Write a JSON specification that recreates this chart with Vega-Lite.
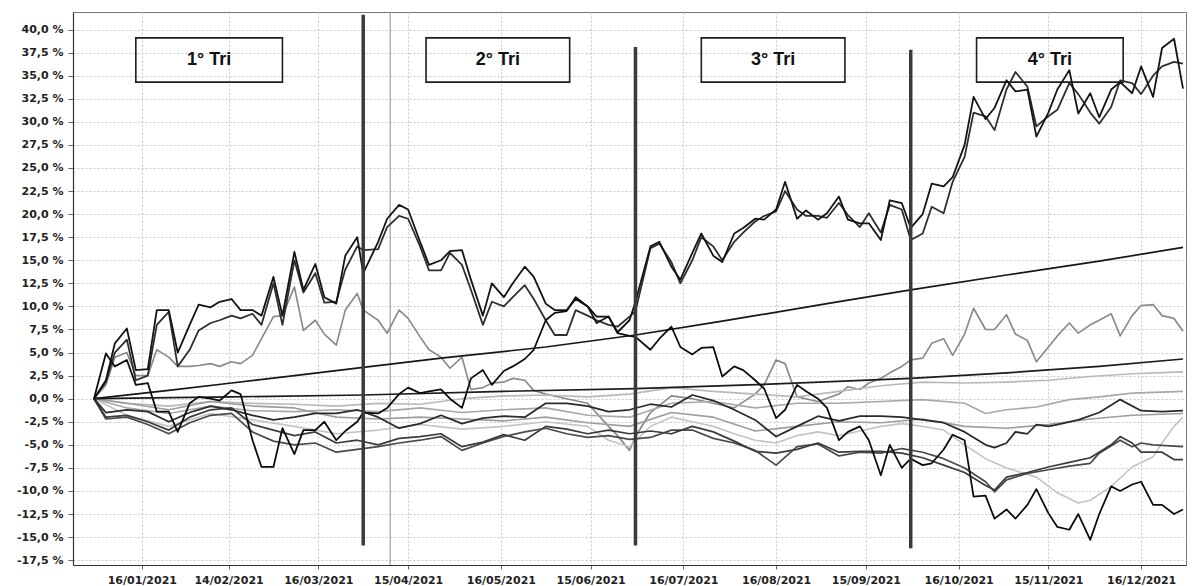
{
  "$schema": "https://vega.github.io/schema/vega-lite/v6.json",
  "autosize": {"type": "none"},
  "padding": {"left": 73, "top": 12, "right": 13, "bottom": 21},
  "width": 1113,
  "height": 553,
  "background": "white",
  "config": {
    "view": {"stroke": "#777", "strokeWidth": 1},
    "axis": {"labelFont": "DejaVu Sans", "labelFontWeight": "bold", "labelFontSize": 11, "labelColor": "#222", "title": null, "grid": true, "gridColor": "#c8c8c8", "gridDash": [2, 2], "gridWidth": 1, "domainColor": "#333", "domainWidth": 1.2, "tickColor": "#666", "tickSize": 5, "labelPadding": 5}
  },
  "encoding": {
    "x": {"field": "d", "type": "temporal", "scale": {"type": "utc", "domain": [{"year": 2020, "month": 12, "date": 24, "utc": true}, {"year": 2021, "month": 12, "date": 31, "utc": true}]},
      "axis": {"values": [
        {"year": 2021, "month": 1, "date": 16, "utc": true},
        {"year": 2021, "month": 2, "date": 14, "utc": true},
        {"year": 2021, "month": 3, "date": 16, "utc": true},
        {"year": 2021, "month": 4, "date": 15, "utc": true},
        {"year": 2021, "month": 5, "date": 16, "utc": true},
        {"year": 2021, "month": 6, "date": 15, "utc": true},
        {"year": 2021, "month": 7, "date": 16, "utc": true},
        {"year": 2021, "month": 8, "date": 16, "utc": true},
        {"year": 2021, "month": 9, "date": 15, "utc": true},
        {"year": 2021, "month": 10, "date": 16, "utc": true},
        {"year": 2021, "month": 11, "date": 15, "utc": true},
        {"year": 2021, "month": 12, "date": 16, "utc": true}], "labelExpr": "utcFormat(datum.value, '%d/%m/%Y')", "labelFlush": false, "labelOverlap": false, "tickSize": 4}},
    "y": {"field": "v", "type": "quantitative", "scale": {"domain": [-18.02, 41.9], "nice": false, "zero": false},
      "axis": {"values": [-17.5, -15, -12.5, -10, -7.5, -5, -2.5, 0, 2.5, 5, 7.5, 10, 12.5, 15, 17.5, 20, 22.5, 25, 27.5, 30, 32.5, 35, 37.5, 40],
        "labelExpr": "replace(replace(format(datum.value, '.1f'), '.', ','), '\u2212', '-') + ' %'"}}
  },
  "layer": [
    {
      "data": {"values": [
        {"d": "2021-01-14", "d2": "2021-03-04", "v": 39.1, "v2": 34.3},
        {"d": "2021-04-21", "d2": "2021-06-08", "v": 39.1, "v2": 34.3},
        {"d": "2021-07-22", "d2": "2021-09-08", "v": 39.1, "v2": 34.3},
        {"d": "2021-10-22", "d2": "2021-12-10", "v": 39.1, "v2": 34.3}
      ]},
      "mark": {"type": "rect", "fill": "white", "fillOpacity": 0, "stroke": "#1e1e1e", "strokeWidth": 1.6},
      "encoding": {"x2": {"field": "d2"}, "y2": {"field": "v2"}}
    },
    {
      "data": {"values": [{"d": "2021-04-09", "v": 41.9, "v2": -18.02}]},
      "mark": {"type": "rule", "color": "#8a8a8a", "strokeWidth": 1},
      "encoding": {"y2": {"field": "v2"}}
    },
    {
      "data": {"name": "series"},
      "transform": [
        {"fold": ["G1", "G2", "G3", "G4", "G5"], "as": ["s", "v"]},
        {"filter": "isValid(datum.v)"}
      ],
      "mark": {"type": "line", "strokeJoin": "round"},
      "encoding": {
        "detail": {"field": "s"},
        "color": {"field": "s", "type": "nominal", "legend": null, "scale": {"domain": ["A1", "A2", "B", "D1", "D2", "D3", "L1", "L2", "G1", "G2", "G3", "G4", "G5"], "range": ["#141414", "#2e2e2e", "#0c0c0c", "#2a2a2a", "#3c3c3c", "#4a4a4a", "#161616", "#1c1c1c", "#8a8a8a", "#b9b9b9", "#a8a8a8", "#c4c4c4", "#9d9d9d"]}},
        "strokeWidth": {"field": "s", "type": "nominal", "legend": null, "scale": {"domain": ["A1", "A2", "B", "D1", "D2", "D3", "L1", "L2", "G1", "G2", "G3", "G4", "G5"], "range": [1.8, 1.6, 2.0, 1.7, 1.5, 1.5, 2.6, 1.9, 1.7, 1.5, 1.5, 2.4, 1.4]}}
      }
    },
    {
      "data": {"name": "series"},
      "transform": [
        {"fold": ["D3", "D2", "D1", "L2", "L1", "A2", "A1", "B"], "as": ["s", "v"]},
        {"filter": "isValid(datum.v)"}
      ],
      "mark": {"type": "line", "strokeJoin": "round"},
      "encoding": {
        "detail": {"field": "s"},
        "color": {"field": "s", "type": "nominal", "legend": null, "scale": {"domain": ["A1", "A2", "B", "D1", "D2", "D3", "L1", "L2", "G1", "G2", "G3", "G4", "G5"], "range": ["#141414", "#2e2e2e", "#0c0c0c", "#2a2a2a", "#3c3c3c", "#4a4a4a", "#161616", "#1c1c1c", "#8a8a8a", "#b9b9b9", "#a8a8a8", "#c4c4c4", "#9d9d9d"]}},
        "strokeWidth": {"field": "s", "type": "nominal", "legend": null, "scale": {"domain": ["A1", "A2", "B", "D1", "D2", "D3", "L1", "L2", "G1", "G2", "G3", "G4", "G5"], "range": [1.8, 1.6, 2.0, 1.7, 1.5, 1.5, 2.6, 1.9, 1.7, 1.5, 1.5, 2.4, 1.4]}}
      }
    },
    {
      "data": {"values": [
        {"d": "2021-03-31", "v": 41.6, "v2": -15.9},
        {"d": "2021-06-30", "v": 38.1, "v2": -15.9},
        {"d": "2021-09-30", "v": 37.8, "v2": -16.2}
      ]},
      "mark": {"type": "rule", "color": "#3a3a3a", "strokeWidth": 3.5},
      "encoding": {"y2": {"field": "v2"}}
    },
    {
      "data": {"values": [
        {"d": "2021-02-07T12:00:00Z", "v": 36.7, "t": "1° Tri"},
        {"d": "2021-05-15", "v": 36.7, "t": "2° Tri"},
        {"d": "2021-08-15", "v": 36.7, "t": "3° Tri"},
        {"d": "2021-11-15T12:00:00Z", "v": 36.7, "t": "4° Tri"}
      ]},
      "mark": {"type": "text", "font": "Liberation Sans", "fontWeight": "bold", "fontSize": 18, "color": "#111", "align": "center", "baseline": "middle"},
      "encoding": {"text": {"field": "t"}}
    }
  ],
  "datasets": {
    "series": [
      {"d": "2020-12-31", "A1": 0, "A2": 0, "B": 0, "L1": 0, "L2": 0, "D1": 0, "D2": 0, "D3": 0, "G1": 0, "G2": 0, "G3": 0, "G4": 0, "G5": 0},
      {"d": "2021-01-04", "A1": 2.0, "A2": 1.8, "B": 4.9, "G1": 1.5, "D1": -1.5, "D2": -2.0, "D3": -2.2},
      {"d": "2021-01-07", "A1": 6.0, "A2": 5.0, "B": 3.5, "G1": 4.5},
      {"d": "2021-01-11", "A1": 7.6, "A2": 6.4, "B": 4.2, "G1": 5.0, "D1": -1.2, "D2": -1.8, "D3": -2.0, "G2": -0.5, "G3": -1.0, "G4": -1.8, "G5": -0.5},
      {"d": "2021-01-14", "A1": 3.1, "A2": 2.0, "B": 1.5, "G1": 2.5},
      {"d": "2021-01-18", "A1": 3.2, "A2": 2.5, "B": 1.7, "G1": 2.5, "D1": -1.4, "D2": -2.5, "D3": -2.8},
      {"d": "2021-01-21", "A1": 9.6, "A2": 8.0, "B": -1.4, "G1": 5.3},
      {"d": "2021-01-25", "A1": 9.6, "A2": 9.4, "B": -1.4, "G1": 4.5, "D1": -2.5, "D2": -3.4, "D3": -3.8, "G2": -0.8, "G3": -1.6, "G4": -3.0, "G5": -1.2, "L1": 0.9},
      {"d": "2021-01-28", "A1": 5.0, "A2": 3.5, "B": -3.6, "G1": 3.5},
      {"d": "2021-02-01", "A1": 8.0, "A2": 5.3, "B": -0.5, "G1": 3.5, "D1": -1.5, "D2": -2.0, "D3": -2.6},
      {"d": "2021-02-04", "A1": 10.2, "A2": 7.4, "B": 0.2, "G1": 3.6},
      {"d": "2021-02-08", "A1": 9.9, "A2": 8.2, "B": 0.0, "G1": 3.8, "D1": -0.8, "D2": -1.2, "D3": -1.8, "G2": -0.3, "G3": -0.8, "G4": -1.6, "G5": -0.3},
      {"d": "2021-02-11", "A1": 10.5, "A2": 8.5, "B": -0.2, "G1": 3.5},
      {"d": "2021-02-15", "A1": 10.8, "A2": 9.0, "B": 0.9, "G1": 4.0, "D1": -1.2, "D2": -1.0, "D3": -1.6, "L1": 1.7, "L2": 0.2},
      {"d": "2021-02-18", "A1": 9.6, "A2": 8.7, "B": 0.5, "G1": 3.8},
      {"d": "2021-02-22", "A1": 9.6, "A2": 9.2, "B": -4.5, "G1": 4.7, "D1": -1.8, "D2": -2.8, "D3": -3.6, "G2": -0.5, "G3": -1.3, "G4": -2.3, "G5": -0.8},
      {"d": "2021-02-25", "A1": 9.0, "A2": 8.0, "B": -7.4, "G1": 6.5},
      {"d": "2021-03-01", "A1": 13.2, "A2": 12.5, "B": -7.4, "G1": 8.9, "D1": -2.3, "D2": -3.4, "D3": -4.6},
      {"d": "2021-03-04", "A1": 9.0, "A2": 8.0, "B": -3.2, "G1": 9.0},
      {"d": "2021-03-08", "A1": 15.9, "A2": 15.0, "B": -6.0, "G1": 12.1, "D1": -2.0, "D2": -4.0, "D3": -5.0, "G2": -0.6, "G3": -1.4, "G4": -3.0, "G5": -1.0, "L1": 2.5},
      {"d": "2021-03-11", "A1": 11.8, "A2": 11.5, "B": -3.4, "G1": 7.4},
      {"d": "2021-03-15", "A1": 14.6, "A2": 13.6, "B": -3.4, "G1": 8.5, "D1": -1.6, "D2": -3.6, "D3": -4.8},
      {"d": "2021-03-18", "A1": 11.0, "A2": 10.4, "B": -2.5, "G1": 7.0},
      {"d": "2021-03-22", "A1": 10.3, "A2": 10.5, "B": -4.5, "G1": 5.8, "D1": -1.6, "D2": -4.8, "D3": -5.8, "G2": -0.8, "G3": -1.2, "G4": -3.8, "G5": -2.0},
      {"d": "2021-03-25", "A1": 15.5, "A2": 14.0, "B": -3.5, "G1": 9.6},
      {"d": "2021-03-29", "A1": 17.5, "A2": 16.5, "B": -2.5, "G1": 11.4, "D1": -1.2, "D2": -4.5, "D3": -5.5},
      {"d": "2021-03-31", "A1": 13.6, "A2": 16.1, "B": -1.5, "G1": 9.6, "L1": 3.4, "L2": 0.4},
      {"d": "2021-04-05", "A1": 17.0, "A2": 16.2, "B": -1.6, "G1": 8.5, "D1": -2.0, "D2": -5.0, "D3": -5.2, "G2": -0.5, "G3": -1.4, "G4": -3.4, "G5": -2.2},
      {"d": "2021-04-08", "A1": 19.5, "A2": 18.6, "B": -1.0, "G1": 7.1},
      {"d": "2021-04-12", "A1": 21.0, "A2": 19.8, "B": 0.5, "G1": 9.6, "D1": -3.2, "D2": -4.3, "D3": -4.8},
      {"d": "2021-04-15", "A1": 20.5, "A2": 19.5, "B": 1.2, "G1": 8.7},
      {"d": "2021-04-19", "A1": 17.0, "A2": 16.5, "B": 0.6, "G1": 6.7, "D1": -2.7, "D2": -4.1, "D3": -4.5, "G2": -0.6, "G3": -1.0, "G4": -2.8, "G5": -2.0},
      {"d": "2021-04-22", "A1": 14.5, "A2": 13.9, "B": 0.8, "G1": 5.3},
      {"d": "2021-04-26", "A1": 15.0, "A2": 13.9, "B": 1.0, "G1": 4.5, "D1": -1.8, "D2": -3.8, "D3": -4.1, "L1": 4.4},
      {"d": "2021-04-29", "A1": 16.0, "A2": 15.8, "B": 0.0, "G1": 3.3},
      {"d": "2021-05-03", "A1": 16.1, "A2": 14.5, "B": -1.0, "G1": 4.5, "D1": -2.7, "D2": -5.2, "D3": -5.6, "G2": 0.0, "G3": -1.5, "G4": -3.3, "G5": -2.2},
      {"d": "2021-05-06", "A1": 12.9, "A2": 11.8, "B": 2.2, "G1": 1.0},
      {"d": "2021-05-10", "A1": 9.0, "A2": 8.0, "B": 3.1, "G1": 1.2, "D1": -2.1, "D2": -4.7, "D3": -4.8},
      {"d": "2021-05-13", "A1": 12.5, "A2": 10.5, "B": 1.5, "G1": 1.7},
      {"d": "2021-05-17", "A1": 11.0, "A2": 10.0, "B": 3.0, "G1": 1.8, "D1": -1.9, "D2": -3.9, "D3": -4.1, "G2": 0.3, "G3": -1.2, "G4": -3.0, "G5": -2.4, "L2": 0.8},
      {"d": "2021-05-20", "A1": 12.5, "A2": 11.0, "B": 3.5, "G1": 2.2},
      {"d": "2021-05-24", "A1": 14.3, "A2": 12.3, "B": 4.3, "G1": 2.0, "D1": -2.0, "D2": -4.5, "D3": -3.6},
      {"d": "2021-05-27", "A1": 13.2, "A2": 10.8, "B": 5.3, "G1": 0.9},
      {"d": "2021-05-31", "A1": 10.3, "A2": 8.5, "B": 8.5, "G1": 0.5, "D1": -0.5, "D2": -3.0, "D3": -3.2, "G2": 0.4, "G3": -1.0, "G4": -2.5, "G5": -2.0, "L1": 5.6},
      {"d": "2021-06-03", "A1": 9.6, "A2": 6.9, "B": 9.3},
      {"d": "2021-06-07", "A1": 9.6, "A2": 6.9, "B": 9.5, "G1": 0.0, "D1": -0.5, "D2": -3.3, "D3": -3.8},
      {"d": "2021-06-10", "A1": 10.8, "A2": 9.6, "B": 11.0},
      {"d": "2021-06-14", "A1": 10.0, "A2": 9.0, "B": 10.0, "G1": -0.5, "D1": -0.8, "D2": -3.8, "D3": -4.2, "G2": 0.2, "G3": -1.8, "G4": -3.0, "G5": -2.6},
      {"d": "2021-06-17", "A1": 8.2, "A2": 8.5, "B": 8.9},
      {"d": "2021-06-21", "A1": 8.9, "A2": 8.0, "B": 8.9, "G1": -3.0, "D1": -1.4, "D2": -3.4, "D3": -4.0, "G4": -4.5},
      {"d": "2021-06-24", "A1": 7.2, "A2": 7.8, "B": 7.1, "G1": -4.0},
      {"d": "2021-06-28", "A1": 8.5, "A2": 8.9, "B": 6.8, "G1": -5.6, "D1": -1.2, "D2": -3.8, "D3": -4.4, "G2": 0.5, "G3": -2.0, "G4": -5.2, "G5": -3.0},
      {"d": "2021-06-30", "A1": 10.5, "A2": 9.5, "B": 6.7, "G1": -4.1, "L1": 6.9, "L2": 1.1},
      {"d": "2021-07-05", "A1": 16.5, "A2": 16.3, "B": 5.3, "G1": -1.5, "D1": -0.6, "D2": -3.5, "D3": -4.2, "G4": -3.0},
      {"d": "2021-07-08", "A1": 17.0, "A2": 16.8, "B": 6.5},
      {"d": "2021-07-12", "A1": 14.3, "A2": 14.8, "B": 7.8, "G1": 0.3, "D1": -0.9, "D2": -3.8, "D3": -3.4, "G2": 1.2, "G3": -0.5, "G4": -2.0, "G5": -1.5},
      {"d": "2021-07-15", "A1": 12.9, "A2": 12.5, "B": 5.6},
      {"d": "2021-07-19", "A1": 15.8, "A2": 15.0, "B": 4.8, "G1": 0.0, "D1": 0.4, "D2": -3.0, "D3": -3.4, "G4": -2.5},
      {"d": "2021-07-22", "A1": 17.9, "A2": 17.5, "B": 5.5},
      {"d": "2021-07-26", "A1": 15.5, "A2": 16.5, "B": 5.6, "G1": -0.5, "D1": -0.2, "D2": -3.6, "D3": -4.3, "G2": 0.8, "G3": -0.3, "G4": -3.0, "G5": -2.0},
      {"d": "2021-07-29", "A1": 14.8, "A2": 15.0, "B": 2.4, "L1": 8.4},
      {"d": "2021-08-02", "A1": 17.9, "A2": 17.0, "B": 3.5, "G1": -1.0, "D1": -1.2, "D2": -4.6, "D3": -4.8, "G4": -3.8},
      {"d": "2021-08-05", "A1": 18.5, "A2": 18.0, "B": 3.1},
      {"d": "2021-08-09", "A1": 19.5, "A2": 19.2, "B": 2.0, "G1": 0.5, "D1": -2.3, "D2": -5.7, "D3": -5.6, "G2": 0.5, "G3": -1.0, "G4": -4.5, "G5": -3.5},
      {"d": "2021-08-12", "A1": 19.4, "A2": 19.8, "B": 1.1, "G1": 1.5},
      {"d": "2021-08-16", "A1": 20.5, "A2": 20.3, "B": -2.1, "G1": 4.2, "D1": -4.1, "D2": -5.9, "D3": -7.2, "G4": -4.8, "L2": 1.6},
      {"d": "2021-08-19", "A1": 23.5, "A2": 22.5, "B": -1.2, "G1": 3.8},
      {"d": "2021-08-23", "A1": 19.5, "A2": 20.5, "B": 1.5, "G1": 0.2, "D1": -3.0, "D2": -5.5, "D3": -5.2, "G2": 0.2, "G3": -0.5, "G4": -4.0, "G5": -3.0},
      {"d": "2021-08-26", "A1": 20.4, "A2": 19.8, "B": 0.8},
      {"d": "2021-08-30", "A1": 19.4, "A2": 19.8, "B": 0.0, "G1": -0.3, "D1": -1.9, "D2": -4.8, "D3": -4.9, "G4": -3.6},
      {"d": "2021-09-02", "A1": 20.1, "A2": 19.6, "B": -1.0, "L1": 10.3},
      {"d": "2021-09-06", "A1": 21.9, "A2": 21.2, "B": -4.5, "G1": 0.5, "D1": -2.4, "D2": -5.8, "D3": -6.2, "G2": 0.8, "G3": -0.5, "G4": -4.0, "G5": -2.5},
      {"d": "2021-09-09", "A1": 19.4, "A2": 19.9, "B": -3.6, "G1": 1.3},
      {"d": "2021-09-13", "A1": 19.0, "A2": 18.6, "B": -3.0, "G1": 1.0, "D1": -1.9, "D2": -5.7, "D3": -5.8, "G4": -3.5},
      {"d": "2021-09-16", "A1": 19.0, "A2": 20.1, "B": -4.5, "G1": 1.7},
      {"d": "2021-09-20", "A1": 17.2, "A2": 18.0, "B": -8.3, "G1": 2.2, "D1": -1.9, "D2": -5.7, "D3": -5.9, "G2": 1.4, "G3": -0.3, "G4": -3.0, "G5": -2.6},
      {"d": "2021-09-23", "A1": 21.5, "A2": 21.0, "B": -5.0, "G1": 2.8},
      {"d": "2021-09-27", "A1": 21.2, "A2": 20.5, "B": -7.5, "G1": 3.5, "D1": -2.0, "D2": -5.9, "D3": -5.4, "G4": -2.7},
      {"d": "2021-09-30", "A1": 18.5, "A2": 17.2, "B": -6.5, "G1": 4.2, "L1": 11.8, "L2": 2.2},
      {"d": "2021-10-04", "A1": 20.0, "A2": 17.9, "B": -7.2, "G1": 4.4, "D1": -2.3, "D2": -6.4, "D3": -5.8, "G2": 1.8, "G3": -0.1, "G4": -3.0, "G5": -2.2},
      {"d": "2021-10-07", "A1": 23.3, "A2": 20.8, "B": -7.0, "G1": 6.0},
      {"d": "2021-10-11", "A1": 23.0, "A2": 20.1, "B": -5.5, "G1": 6.5, "D1": -2.6, "D2": -7.2, "D3": -6.5, "G4": -3.4},
      {"d": "2021-10-14", "A1": 24.0, "A2": 23.5, "B": -3.9, "G1": 4.7},
      {"d": "2021-10-18", "A1": 27.5, "A2": 26.2, "B": -4.5, "G1": 7.0, "D1": -3.6, "D2": -8.0, "D3": -7.5, "G2": 1.7, "G3": -0.5, "G4": -5.0, "G5": -3.0},
      {"d": "2021-10-21", "A1": 32.7, "A2": 31.0, "B": -10.6, "G1": 9.8},
      {"d": "2021-10-25", "A1": 30.3, "A2": 30.6, "B": -10.5, "G1": 7.5, "D1": -5.0, "D2": -9.4, "D3": -9.0, "G3": -1.6, "G4": -6.5},
      {"d": "2021-10-28", "A1": 31.5, "A2": 29.1, "B": -13.0, "G1": 7.5, "D1": -5.3, "D2": -9.9, "D3": -10.1},
      {"d": "2021-11-01", "A1": 34.5, "A2": 33.5, "B": -12.0, "G1": 9.1, "D1": -4.8, "D2": -8.5, "D3": -8.8, "G2": 1.8, "G3": -1.2, "G4": -7.5, "G5": -3.2, "L1": 13.4, "L2": 2.8},
      {"d": "2021-11-04", "A1": 33.3, "A2": 35.4, "B": -13.0, "G1": 7.0, "D1": -3.6},
      {"d": "2021-11-08", "A1": 33.5, "A2": 33.8, "B": -11.5, "G1": 6.3, "D1": -3.8, "D2": -8.0, "D3": -8.1},
      {"d": "2021-11-11", "A1": 28.4, "A2": 29.5, "B": -9.8, "G1": 4.0, "D1": -2.8, "G3": -0.9, "G4": -8.5},
      {"d": "2021-11-15", "A1": 31.0, "A2": 30.6, "B": -12.4, "G1": 5.6, "D1": -3.0, "D2": -7.4, "D3": -7.7, "G2": 2.0, "G5": -2.8},
      {"d": "2021-11-18", "A1": 33.5, "A2": 31.3, "B": -13.9, "G1": 6.8, "D1": -2.8, "G4": -10.2},
      {"d": "2021-11-22", "A1": 35.6, "A2": 34.2, "B": -14.2, "G1": 8.2, "D2": -6.9, "D3": -7.3, "G3": -0.1},
      {"d": "2021-11-25", "A1": 30.9, "A2": 33.0, "B": -12.5, "G1": 7.1, "D1": -2.3, "G4": -11.3},
      {"d": "2021-11-29", "A1": 33.1, "A2": 31.0, "B": -15.3, "G1": 8.0, "D2": -6.4, "D3": -7.0, "G2": 2.4, "G4": -11.0, "G5": -2.2},
      {"d": "2021-12-02", "A1": 30.5, "A2": 29.8, "B": -12.5, "G1": 8.5, "D1": -1.5, "D3": -5.9, "G3": 0.2, "L1": 14.9, "L2": 3.5},
      {"d": "2021-12-06", "A1": 33.5, "A2": 31.6, "B": -9.5, "G1": 9.2, "D2": -5.0, "G4": -9.5},
      {"d": "2021-12-09", "A1": 34.3, "A2": 34.5, "B": -10.0, "G1": 6.8, "D1": -0.1, "D2": -4.1, "D3": -4.5},
      {"d": "2021-12-13", "A1": 33.1, "A2": 34.2, "B": -9.3, "G1": 9.0, "D2": -4.8, "D3": -5.2, "G2": 2.7, "G3": 0.6, "G4": -7.4, "G5": -1.8},
      {"d": "2021-12-16", "A1": 36.0, "A2": 33.0, "B": -9.0, "G1": 10.1, "D1": -1.3, "D2": -5.8, "D3": -4.8},
      {"d": "2021-12-20", "A1": 32.7, "A2": 35.0, "B": -11.5, "G1": 10.2, "G4": -6.3, "D3": -5.0},
      {"d": "2021-12-23", "A1": 38.0, "A2": 36.0, "B": -11.5, "G1": 9.0, "D1": -1.4, "D2": -5.8, "G4": -4.8},
      {"d": "2021-12-27", "A1": 39.0, "A2": 36.5, "B": -12.5, "G1": 8.7, "D2": -6.6, "G4": -3.0},
      {"d": "2021-12-30", "A1": 33.6, "A2": 36.3, "B": -12.0, "G1": 7.3, "D1": -1.3, "D2": -6.6, "D3": -5.2, "G2": 2.9, "G3": 0.8, "G4": -2.0, "G5": -1.6, "L1": 16.4, "L2": 4.3}
    ]
  }
}
